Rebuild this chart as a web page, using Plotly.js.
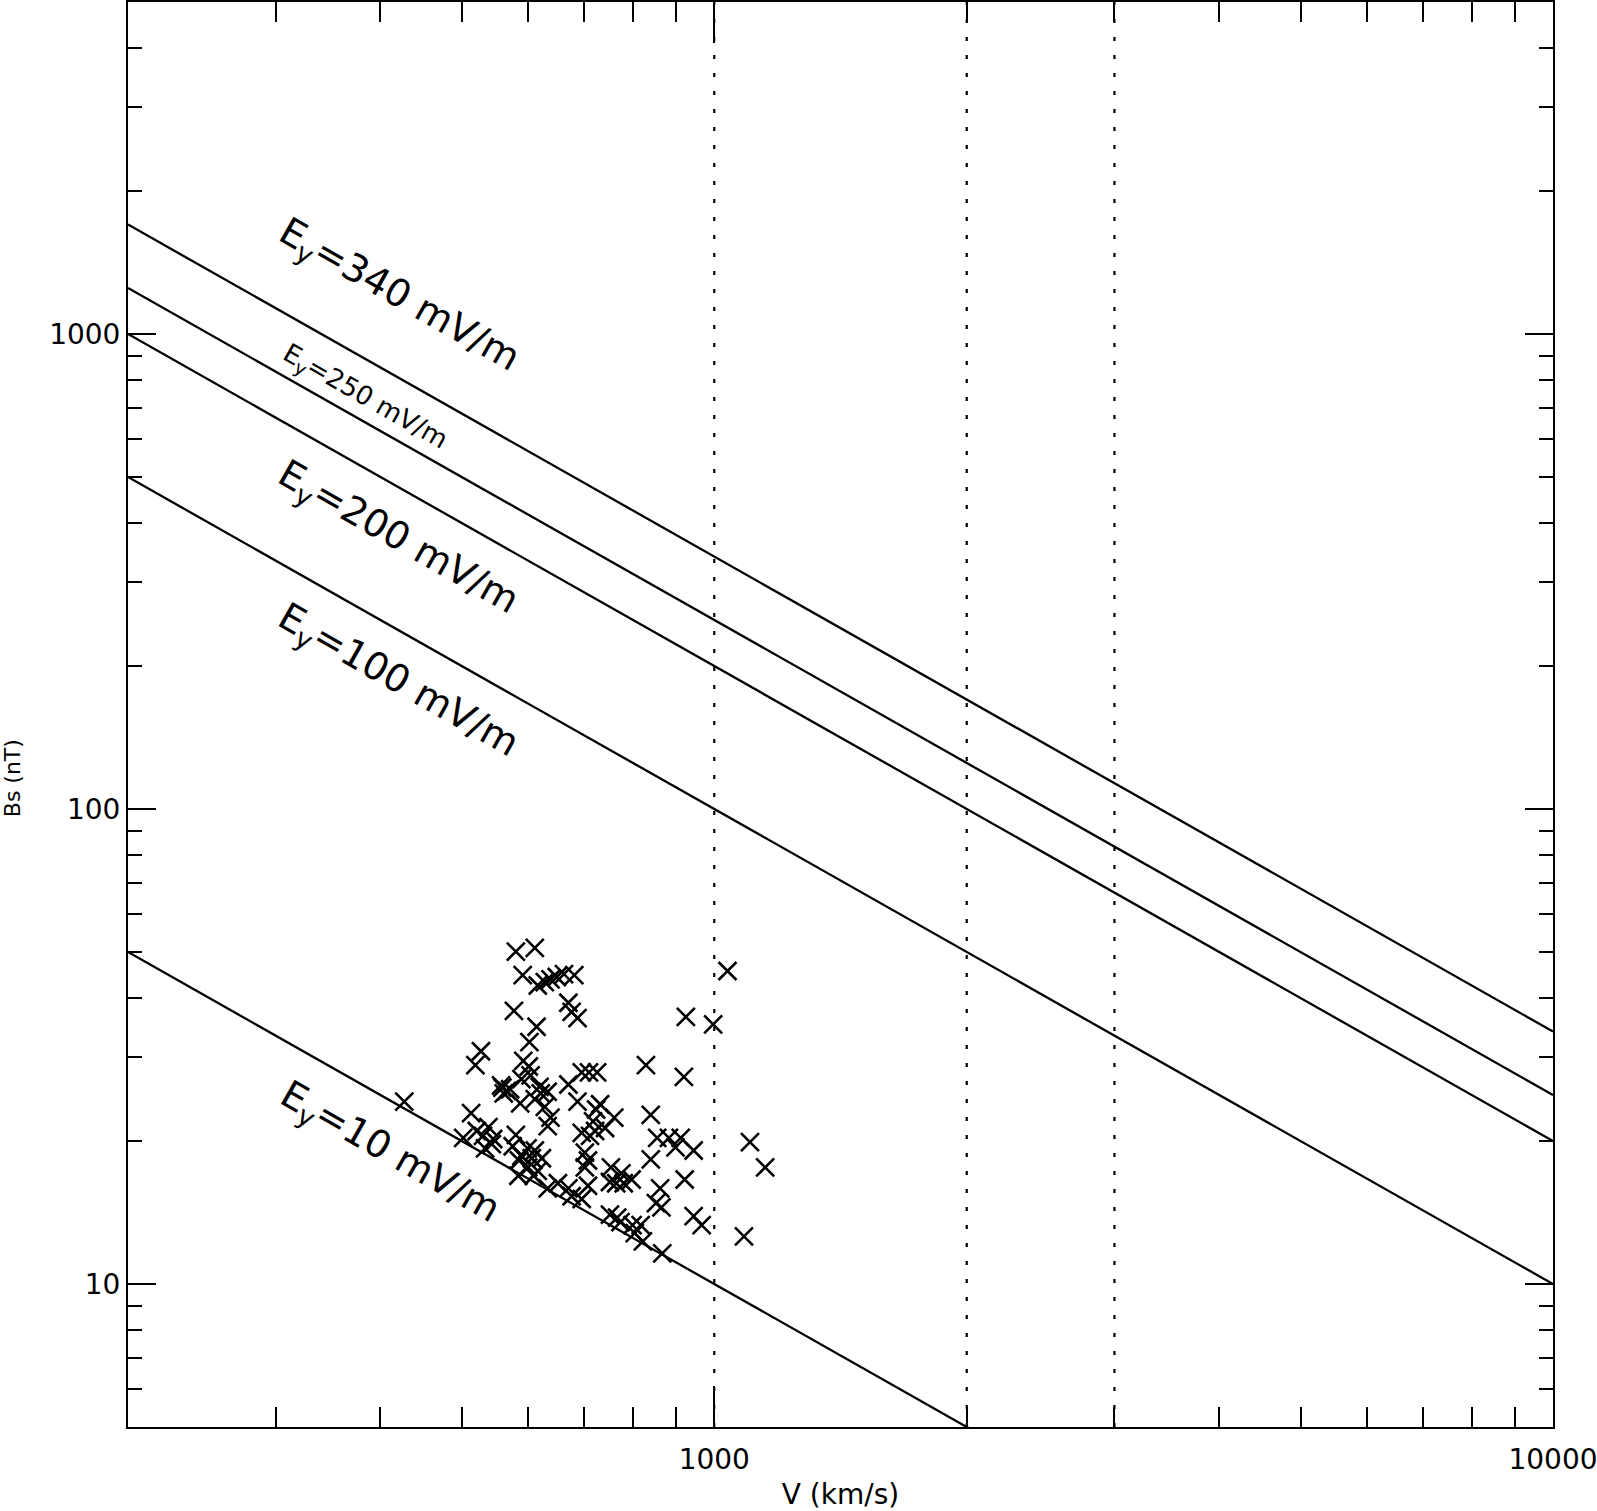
<!DOCTYPE html>
<html>
<head>
<meta charset="utf-8">
<script src="https://cdn.plot.ly/plotly-3.0.1.min.js"></script>
<style>
  html, body { margin: 0; padding: 0; background: #fff; }
  #chart { width: 1597px; height: 1511px; }
</style>
</head>
<body>
<div id="chart"></div>
<script>
// event speed V (km/s) and southward field Bs (nT)
const speed = [
  580, 611, 591, 616, 628, 638, 649, 662, 681, 1037,
  577, 670, 676, 687, 925, 997, 614,
  602, 527, 519, 592, 601, 695, 709, 725, 829, 920,
  559, 566, 571, 561, 557, 604, 619, 633, 670, 589,
  427, 587, 611, 628, 621, 687, 723, 731, 513, 638, 840, 760,
  502, 521, 530, 538, 545, 533, 543, 580, 633, 717, 721, 711, 741, 695, 855, 883, 912, 899, 945, 1103,
  589, 606, 611, 623, 600, 616, 599, 584, 701, 707, 701, 753, 775, 797, 840, 922, 1150, 575, 585, 609,
  633, 651, 670, 676, 695, 707, 764, 780, 751, 862, 852, 865,
  751, 766, 773, 799, 817, 804, 822, 945, 966, 1085, 867
];
const bs = [
  50.1, 51.0, 44.7, 42.5, 43.2, 43.8, 44.3, 44.9, 44.7, 45.6,
  37.6, 39.1, 37.4, 36.3, 36.5, 35.2, 34.8,
  32.3, 30.9, 28.9, 29.5, 28.7, 27.9, 27.9, 27.9, 28.9, 27.3,
  25.9, 25.5, 25.7, 25.2, 26.2, 27.5, 26.0, 25.4, 26.3, 27.0,
  24.2, 24.0, 24.5, 23.6, 25.2, 24.2, 23.3, 23.9, 22.9, 22.4, 22.7, 22.4,
  20.3, 21.0, 20.5, 21.4, 20.2, 19.3, 19.7, 20.6, 21.5, 22.0, 21.0, 20.5, 21.3, 20.8, 20.3, 20.3, 20.3, 19.4, 19.1, 19.9,
  18.6, 18.4, 19.1, 18.4, 17.6, 17.3, 19.3, 16.9, 18.9, 18.2, 17.6, 17.6, 17.1, 16.6, 18.3, 16.6, 17.6, 19.5, 18.2, 16.9,
  15.9, 16.3, 15.9, 15.3, 15.1, 16.1, 16.3, 16.3, 16.4, 15.9, 14.8, 14.5,
  14.0, 13.8, 13.5, 13.3, 13.3, 12.8, 12.3, 13.9, 13.3, 12.6, 11.6
];

// constant Ey = V * Bs lines (mV/m)
const eyLevels = [340, 250, 200, 100, 10];
const eyLabels = [
  "E<sub>y</sub>=340 mV/m",
  "E<sub>y</sub>=250 mV/m",
  "E<sub>y</sub>=200 mV/m",
  "E<sub>y</sub>=100 mV/m",
  "E<sub>y</sub>=10 mV/m"
];
const lineSpeed = [200, 10000];
const markerSpeeds = [1000, 2000, 3000];

const xMajor = [1000, 10000];
const xMinor = [300, 400, 500, 600, 700, 800, 900, 2000, 3000, 4000, 5000, 6000, 7000, 8000, 9000];
const yMajor = [10, 100, 1000];
const yMinor = [6, 7, 8, 9, 20, 30, 40, 50, 60, 70, 80, 90, 200, 300, 400, 500, 600, 700, 800, 900, 2000, 3000, 4000];

const FONT = "DejaVu Sans, Liberation Sans, sans-serif";

const traces = [];

markerSpeeds.forEach(v => {
  traces.push({
    x: [v, v], y: [5, 5000], mode: "lines",
    line: { color: "#000", width: 2.2, dash: "4px,14px" },
    hoverinfo: "skip", showlegend: false
  });
});

eyLevels.forEach(ey => {
  traces.push({
    x: lineSpeed,
    y: lineSpeed.map(v => ey * 1000 / v),
    mode: "lines",
    line: { color: "#000", width: 2.3 },
    showlegend: false
  });
});

traces.push({
  x: speed, y: bs, mode: "markers",
  marker: { symbol: "x-thin-open", size: 18, color: "#000", line: { color: "#000", width: 2.6 } },
  showlegend: false
});

// label placement (log10 coords because both axes are log)
const labelPos = [
  { x: 2.624, y: 3.079, size: 38 },
  { x: 2.584, y: 2.867, size: 26 },
  { x: 2.622, y: 2.569, size: 38 },
  { x: 2.622, y: 2.268, size: 38 },
  { x: 2.613, y: 1.275, size: 38 }
];

const annotations = eyLabels.map((t, i) => ({
  text: t, x: labelPos[i].x, y: labelPos[i].y, xref: "x", yref: "y",
  showarrow: false, textangle: 29.6, xanchor: "center", yanchor: "middle",
  font: { family: FONT, size: labelPos[i].size, color: "#000" }
}));

annotations.push({
  text: "Bs (nT)", xref: "paper", yref: "paper", x: -0.081, y: 0.455,
  showarrow: false, textangle: -90, xanchor: "center", yanchor: "middle",
  font: { family: FONT, size: 22, color: "#000" }
});

const axisCommon = {
  type: "log",
  showline: true, linecolor: "#000", linewidth: 2,
  mirror: "allticks",
  ticks: "inside", tickwidth: 2, tickcolor: "#000",
  showgrid: false, zeroline: false,
  ticklabeloverflow: "allow",
  tickfont: { family: FONT, size: 28, color: "#000" }
};

const layout = {
  width: 1597, height: 1511,
  margin: { l: 128, r: 44, t: 2, b: 84 },
  paper_bgcolor: "#fff", plot_bgcolor: "#fff",
  font: { family: FONT, color: "#000" },
  showlegend: false,
  xaxis: Object.assign({}, axisCommon, {
    range: [Math.log10(200), 4],
    tickmode: "array", tickvals: xMajor, ticktext: xMajor.map(String),
    ticklen: 41, ticklabelstandoff: 6,
    minor: { tickvals: xMinor, ticks: "inside", ticklen: 20, tickwidth: 2, tickcolor: "#000", showgrid: false },
    title: { text: "V (km/s)", font: { family: FONT, size: 28, color: "#000" }, standoff: 14 }
  }),
  yaxis: Object.assign({}, axisCommon, {
    range: [Math.log10(5), Math.log10(5000)],
    tickmode: "array", tickvals: yMajor, ticktext: yMajor.map(String),
    ticklen: 28,
    minor: { tickvals: yMinor, ticks: "inside", ticklen: 14, tickwidth: 2, tickcolor: "#000", showgrid: false }
  }),
  annotations: annotations
};

Plotly.newPlot("chart", traces, layout, { displayModeBar: false, staticPlot: true });
</script>
</body>
</html>
